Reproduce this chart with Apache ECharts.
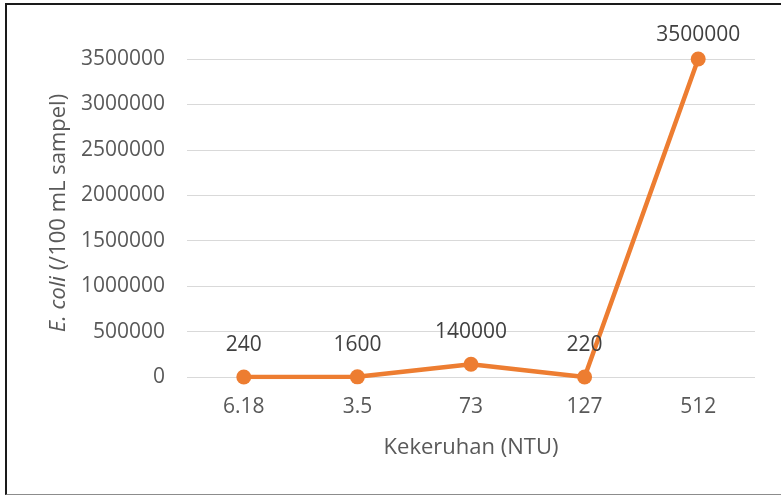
<!DOCTYPE html>
<html>
<head>
<meta charset="utf-8">
<script src="https://cdn.jsdelivr.net/npm/echarts@6/dist/echarts.min.js"></script>
<style>
  html, body { margin: 0; padding: 0; background: #fff; }
  #wrap { position: relative; width: 781px; height: 495px; overflow: hidden; }
  #frame {
    position: absolute; left: 5px; top: 3px; width: 800px; height: 489px;
    border-left: 2px solid #1a1a1a; border-top: 2px solid #1a1a1a;
    border-bottom: 1px solid #8c8c8c; pointer-events: none;
  }
  #chart { position: absolute; left: 0; top: 0; width: 781px; height: 495px; }
</style>
</head>
<body>
<div id="wrap">
  <div id="chart"></div>
  <div id="frame"></div>
</div>
<script>
// Turbidity categories (NTU) and E. coli counts per 100 mL sample
const turbidity = ['6.18', '3.5', '73', '127', '512'];
const ecoli = [240, 1600, 140000, 220, 3500000];
const yTicks = { min: 0, max: 3500000, interval: 500000 };

const FONT = '"Open Sans", "Noto Sans", sans-serif';
const TEXT = '#595959';
const chart = echarts.init(document.getElementById('chart'), null, { renderer: 'canvas' });

// The label of the top point sits closer to its marker so it stays inside the plot
const seriesData = ecoli.map(v => v === yTicks.max
  ? { value: v, label: { distance: 6 } }
  : { value: v });

chart.setOption({
  animation: false,
  grid: { left: 187, right: 26, top: 59, bottom: 118, containLabel: false },
  xAxis: {
    type: 'category',
    data: turbidity,
    boundaryGap: true,
    axisLine: { show: false },
    axisTick: { show: false },
    axisLabel: { color: TEXT, fontSize: 21, fontFamily: FONT, margin: 20 },
    name: 'Kekeruhan (NTU)',
    nameLocation: 'middle',
    nameGap: 60,
    nameTextStyle: { color: TEXT, fontSize: 22, fontFamily: FONT }
  },
  yAxis: {
    type: 'value',
    min: yTicks.min,
    max: yTicks.max,
    interval: yTicks.interval,
    axisLine: { show: false },
    axisTick: { show: false },
    splitLine: { lineStyle: { color: '#d9d9d9', width: 1 } },
    axisLabel: {
      color: TEXT, fontSize: 21, fontFamily: FONT, margin: 22,
      formatter: v => String(v)
    },
    name: '{i|E. coli} (/100 mL sampel)',
    nameLocation: 'middle',
    nameGap: 117,
    nameRotate: 90,
    nameTextStyle: {
      color: TEXT, fontSize: 22, fontFamily: FONT,
      padding: [0, 0, 0, 10],
      rich: { i: { fontStyle: 'italic', color: TEXT, fontSize: 22, fontFamily: FONT } }
    }
  },
  series: [{
    type: 'line',
    data: seriesData,
    symbol: 'circle',
    symbolSize: 15,
    lineStyle: { color: '#ED7D31', width: 4.5 },
    itemStyle: { color: '#ED7D31' },
    label: {
      show: true,
      position: 'top',
      distance: 14,
      color: '#404040',
      fontSize: 21,
      fontFamily: FONT
    }
  }]
});
</script>
</body>
</html>
